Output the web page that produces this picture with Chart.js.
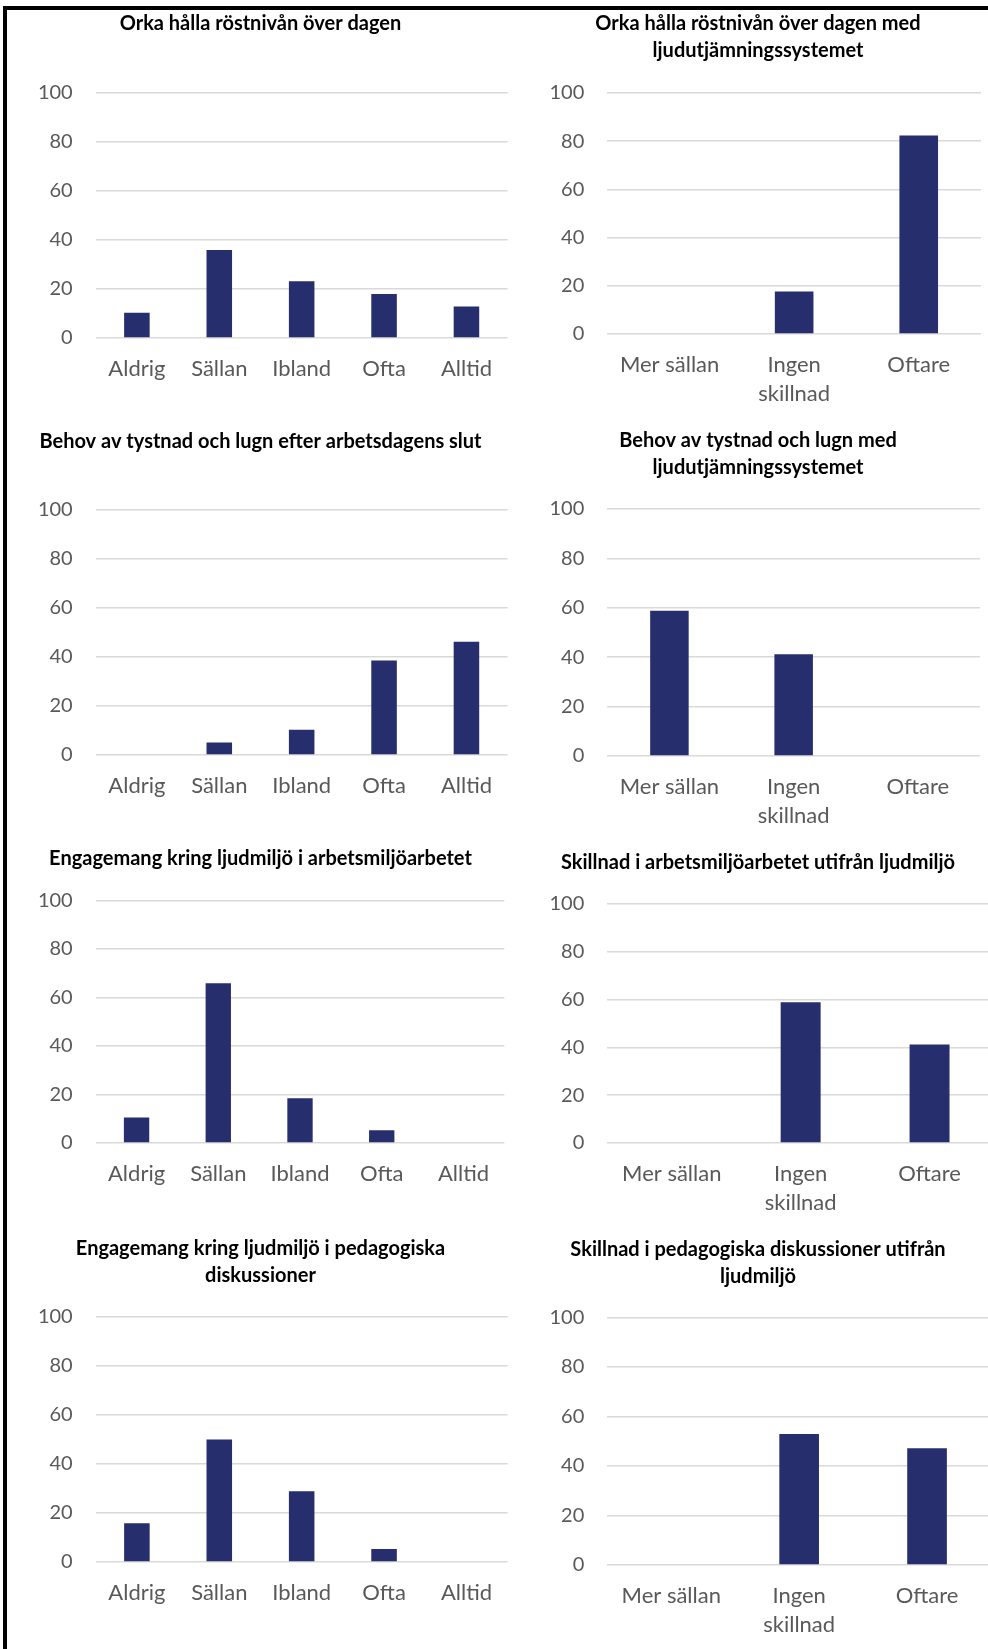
<!DOCTYPE html>
<html>
<head>
<meta charset="utf-8">
<title>Ljudmiljö</title>
<script src="https://cdn.jsdelivr.net/npm/chart.js@4.4.1/dist/chart.umd.min.js"></script>
<style>
  html, body { margin: 0; padding: 0; background: #fff; width: 988px; height: 1649px; overflow: hidden; }
  #frame { position: absolute; left: 3px; top: 6px; right: 0; bottom: 0; border-left: 4px solid #000; border-top: 4px solid #000; }
  .panel { position: absolute; }
</style>
</head>
<body>
<div id="frame"></div>
<div id="panels"></div>

<script>
// answer categories
let freqLabels = ['Aldrig', 'Sällan', 'Ibland', 'Ofta', 'Alltid'];
let changeLabels = ['Mer sällan', ['Ingen', 'skillnad'], 'Oftare'];

// percent of answers per category
let rostniva = [10.3, 35.9, 23.1, 17.9, 12.8];
let rostnivaMed = [0, 17.6, 82.4];
let tystnad = [0, 5.1, 10.3, 38.5, 46.2];
let tystnadMed = [58.8, 41.2, 0];
let engArbetsmiljo = [10.5, 65.8, 18.4, 5.3, 0];
let skillnadArbetsmiljo = [0, 58.8, 41.2];
let engPedagogik = [15.8, 50.0, 28.9, 5.3, 0];
let skillnadPedagogik = [0, 52.9, 47.1];

// y axis ticks
let yMin = 0;
let yMax = 100;
let yStep = 20;

let barColour = '#262e6d';
let gridColour = '#d9d9d9';
let tickColour = '#595959';

// where each panel sits: column, plot right edge, first title line centre, y of the 100 and 0 gridlines
let panels = [
    { title: 'Orka hålla röstnivån över dagen', labels: freqLabels, values: rostniva,
      col: 0, right: 509, y1: 24, y100: 92.7, y0: 338.3 },
    { title: ['Orka hålla röstnivån över dagen med', 'ljudutjämningssystemet'], labels: changeLabels, values: rostnivaMed,
      col: 1, right: 981, y1: 24, y100: 93, y0: 334 },
    { title: 'Behov av tystnad och lugn efter arbetsdagens slut', labels: freqLabels, values: tystnad,
      col: 0, right: 509, y1: 441.7, y100: 509.7, y0: 755 },
    { title: ['Behov av tystnad och lugn med', 'ljudutjämningssystemet'], labels: changeLabels, values: tystnadMed,
      col: 1, right: 980, y1: 440.7, y100: 509, y0: 756 },
    { title: 'Engagemang kring ljudmiljö i arbetsmiljöarbetet', labels: freqLabels, values: engArbetsmiljo,
      col: 0, right: 506, y1: 858.3, y100: 900.3, y0: 1143.3 },
    { title: 'Skillnad i arbetsmiljöarbetet utifrån ljudmiljö', labels: changeLabels, values: skillnadArbetsmiljo,
      col: 1, right: 994, y1: 862.7, y100: 903.7, y0: 1143.3 },
    { title: ['Engagemang kring ljudmiljö i pedagogiska', 'diskussioner'], labels: freqLabels, values: engPedagogik,
      col: 0, right: 509, y1: 1248.3, y100: 1317, y0: 1561.7 },
    { title: ['Skillnad i pedagogiska diskussioner utifrån', 'ljudmiljö'], labels: changeLabels, values: skillnadPedagogik,
      col: 1, right: 991, y1: 1249.3, y100: 1317.3, y0: 1565 }
];

let colLeft = [95.7, 607.3];      // plot left edge per column
let colTitleX = [260.5, 758];     // title centre per column
let titleSize = 20;
let titleLine = 27;
let axisHeight = 80;

function makePanel(p, i) {
    let left = Math.round(2 * colTitleX[p.col] - p.right);
    let width = Math.round(p.right - left);
    let top = Math.floor(p.y1 - titleLine / 2 - 2);
    let height = Math.round(p.y0 - top + axisHeight);
    let lines = Array.isArray(p.title) ? p.title.length : 1;
    let padTop = p.y1 - titleLine / 2 - top;
    let padBottom = p.y100 - top - padTop - lines * titleLine;
    let yWidth = colLeft[p.col] - left;

    let box = document.createElement('div');
    box.className = 'panel';
    box.style.left = left + 'px';
    box.style.top = top + 'px';
    let canvas = document.createElement('canvas');
    canvas.id = 'chart-' + i;
    canvas.width = width;
    canvas.height = height;
    canvas.style.width = width + 'px';
    canvas.style.height = height + 'px';
    box.appendChild(canvas);
    document.querySelector('#panels').appendChild(box);

    return new Chart(canvas.getContext('2d'), {
        type: 'bar',
        data: {
            labels: p.labels,
            datasets: [{
                data: p.values,
                backgroundColor: barColour,
                borderWidth: 0,
                categoryPercentage: 1,
                barPercentage: 0.31
            }]
        },
        options: {
            responsive: false,
            animation: false,
            layout: { padding: 0 },
            plugins: {
                legend: { display: false },
                tooltip: { enabled: false },
                title: {
                    display: true,
                    text: p.title,
                    color: '#000',
                    font: { family: 'Lato', size: titleSize, weight: 'bold', lineHeight: titleLine / titleSize },
                    padding: { top: padTop, bottom: padBottom }
                }
            },
            scales: {
                x: {
                    grid: { display: false, drawTicks: false },
                    border: { display: false },
                    ticks: {
                        color: tickColour,
                        padding: 17,
                        maxRotation: 0,
                        autoSkip: false,
                        font: { family: 'Lato', size: 22, lineHeight: 1.3 }
                    },
                    afterFit: function (scale) { scale.height = axisHeight; }
                },
                y: {
                    min: yMin,
                    max: yMax,
                    grid: { color: gridColour, lineWidth: 1.5, drawTicks: false },
                    border: { display: false },
                    ticks: {
                        stepSize: yStep,
                        color: tickColour,
                        padding: 23,
                        font: { family: 'Lato', size: 20 }
                    },
                    afterFit: function (scale) { scale.width = yWidth; }
                }
            }
        }
    });
}

let charts = panels.map(makePanel);
</script>
</body>
</html>
